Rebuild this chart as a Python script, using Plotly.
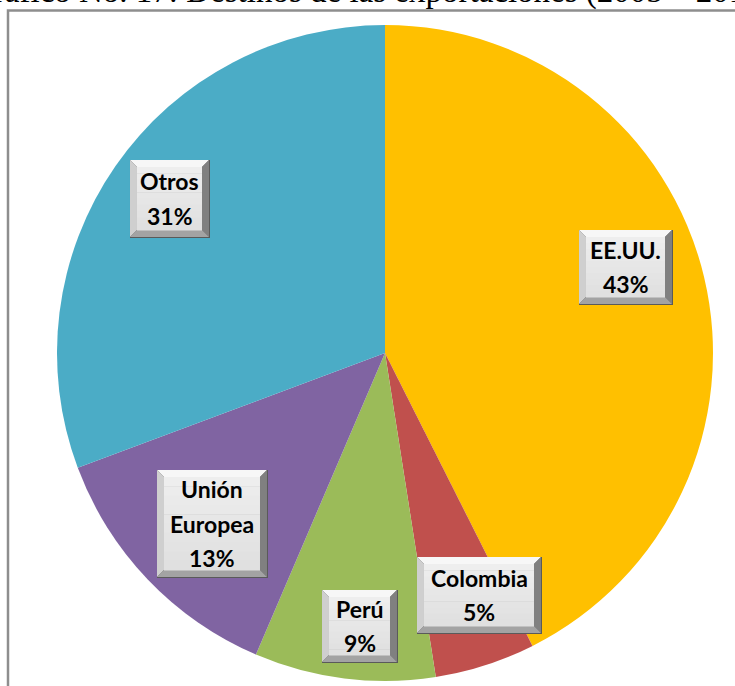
import plotly.graph_objects as go

# Export destinations (share of total)
destinos = ["EE.UU.", "Colombia", "Perú", "Unión Europea", "Otros"]
valores = [43, 5, 9, 13, 31]
colores = ["#FFC000", "#C0504D", "#9BBB59", "#8064A2", "#4BACC6"]

titulo = "Gráfico No. 17: Destinos de las exportaciones (2005 – 2014)"

# Label box placement (pixel boxes: x0, y0, x1, y1)
cajas = [
    (579, 230, 672, 304),
    (417, 557, 541, 633),
    (322, 590, 397, 662),
    (157, 470, 267, 577),
    (130, 160, 209, 237),
]

W, H = 735, 686
ML, MR, MT, MB = 57, 22, 25, 5
PW, PH = W - ML - MR, H - MT - MB


def px(x):
    return (x - ML) / PW


def py(y):
    return (H - MB - y) / PH


def path(points):
    s = "M " + " L ".join(f"{px(x):.5f},{py(y):.5f}" for x, y in points)
    return s + " Z"


fig = go.Figure(
    go.Pie(
        labels=destinos,
        values=valores,
        sort=False,
        direction="clockwise",
        rotation=0,
        marker=dict(colors=colores, line=dict(width=0)),
        textinfo="none",
        showlegend=False,
    )
)

shapes = []
annotations = []
total = sum(valores)
b = 7
for nombre, v, (x0, y0, x1, y1) in zip(destinos, valores, cajas):
    # outer edge / shadow
    shapes.append(dict(type="path", xref="paper", yref="paper",
                       path=path([(x0, y0), (x1 + 1, y0), (x1 + 1, y1 + 1), (x0, y1 + 1)]),
                       fillcolor="#5a5a5a", line=dict(width=0), layer="above"))
    # bevels
    shapes.append(dict(type="path", xref="paper", yref="paper",
                       path=path([(x0, y0), (x1, y0), (x1 - b, y0 + b), (x0 + b, y0 + b)]),
                       fillcolor="#f7f7f7", line=dict(width=0), layer="above"))
    shapes.append(dict(type="path", xref="paper", yref="paper",
                       path=path([(x0, y0), (x0 + b, y0 + b), (x0 + b, y1 - b), (x0, y1)]),
                       fillcolor="#cfcfcf", line=dict(width=0), layer="above"))
    shapes.append(dict(type="path", xref="paper", yref="paper",
                       path=path([(x1, y0), (x1, y1), (x1 - b, y1 - b), (x1 - b, y0 + b)]),
                       fillcolor="#808080", line=dict(width=0), layer="above"))
    shapes.append(dict(type="path", xref="paper", yref="paper",
                       path=path([(x0, y1), (x1, y1), (x1 - b, y1 - b), (x0 + b, y1 - b)]),
                       fillcolor="#a3a3a3", line=dict(width=0), layer="above"))
    # face with a soft vertical gradient
    n = 10
    fy0, fy1 = y0 + b, y1 - b
    for i in range(n):
        a0 = fy0 + (fy1 - fy0) * i / n
        a1 = fy0 + (fy1 - fy0) * (i + 1) / n
        g = int(238 - 14 * i / (n - 1))
        shapes.append(dict(type="path", xref="paper", yref="paper",
                           path=path([(x0 + b, a0), (x1 - b, a0), (x1 - b, a1 + 0.5), (x0 + b, a1 + 0.5)]),
                           fillcolor=f"rgb({g},{g},{g})", line=dict(width=0), layer="above"))

    pct = f"{round(v / total * 100)}%"
    lineas = nombre.split(" ") + [pct]
    paso = 34
    cx = (x0 + x1) / 2
    cy = (y0 + y1) / 2
    for k, t in enumerate(lineas):
        yy = cy + (k - (len(lineas) - 1) / 2) * paso
        annotations.append(dict(text=f"<b>{t}</b>", x=px(cx), y=py(yy),
                                xref="paper", yref="paper", showarrow=False,
                                xanchor="center", yanchor="middle",
                                font=dict(family="Lato", size=23, color="#000000")))

# frame around the chart
shapes.append(dict(type="rect", xref="paper", yref="paper",
                   x0=px(8), x1=px(760), y0=py(700), y1=py(10.5),
                   line=dict(color="#8e8e8e", width=2.5), fillcolor="rgba(0,0,0,0)",
                   layer="above"))

# title (only its lower part falls inside the page)
annotations.append(dict(text=titulo, x=px(371), y=py(-9), xref="paper", yref="paper",
                        showarrow=False, xanchor="center", yanchor="middle",
                        font=dict(family="Liberation Serif", size=33, color="#000000")))

fig.update_layout(
    width=W, height=H,
    margin=dict(l=ML, r=MR, t=MT, b=MB),
    paper_bgcolor="white",
    plot_bgcolor="white",
    shapes=shapes,
    annotations=annotations,
)

fig.write_html("out.html")
